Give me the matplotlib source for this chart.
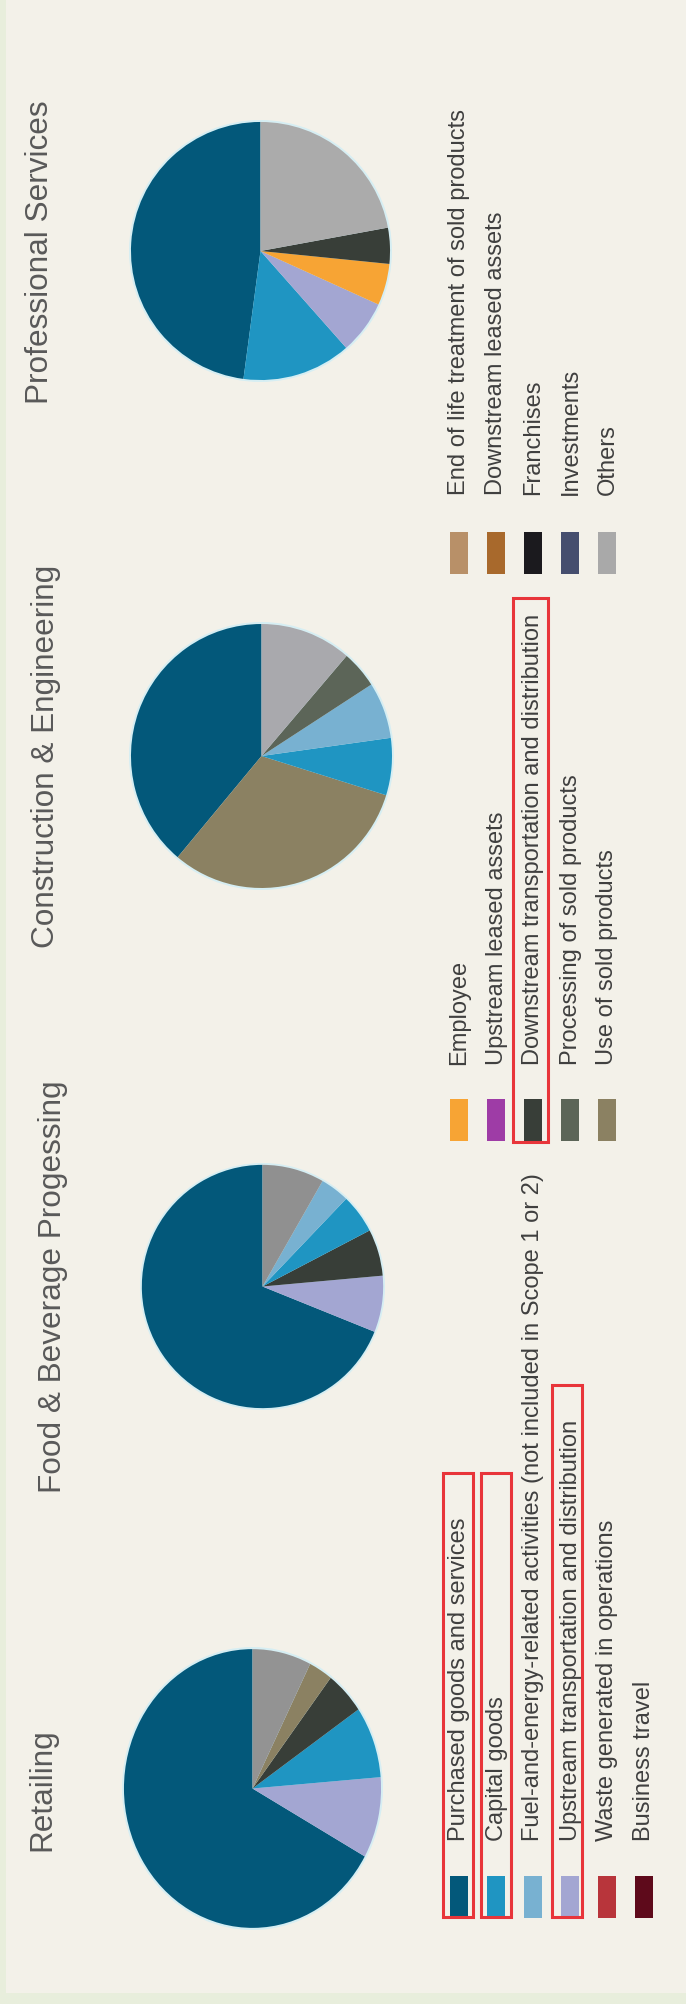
import matplotlib
matplotlib.use("Agg")
import matplotlib.pyplot as plt
from matplotlib.patches import Rectangle, Ellipse

plt.rcParams["font.family"] = ["Liberation Sans", "DejaVu Sans"]

W, H = 686, 2004

# Scope 3 category colours
CATEGORY_COLORS = {
    "Purchased goods and services": "#03587A",
    "Capital goods": "#1F95C2",
    "Fuel-and-energy-related activities (not included in Scope 1 or 2)": "#78B1D1",
    "Upstream transportation and distribution": "#A3A6D2",
    "Waste generated in operations": "#B8353B",
    "Business travel": "#5E0A1B",
    "Employee": "#F7A434",
    "Upstream leased assets": "#9E3CA6",
    "Downstream transportation and distribution": "#383E38",
    "Processing of sold products": "#5C6558",
    "Use of sold products": "#8B8162",
    "End of life treatment of sold products": "#B89068",
    "Downstream leased assets": "#A8692C",
    "Franchises": "#1B1A1E",
    "Investments": "#454E6E",
    "Others": "#A9A9A9",
}

legend_cols = [
    ["Purchased goods and services",
     "Capital goods",
     "Fuel-and-energy-related activities (not included in Scope 1 or 2)",
     "Upstream transportation and distribution",
     "Waste generated in operations",
     "Business travel"],
    ["Employee",
     "Upstream leased assets",
     "Downstream transportation and distribution",
     "Processing of sold products",
     "Use of sold products"],
    ["End of life treatment of sold products",
     "Downstream leased assets",
     "Franchises",
     "Investments",
     "Others"],
]

# sector shares (%), in wedge order
sectors = ["Retailing", "Food & Beverage Progessing",
           "Construction & Engineering", "Professional Services"]

retail_cats = ["Purchased goods and services", "Upstream transportation and distribution",
               "Capital goods", "Downstream transportation and distribution",
               "Use of sold products", "Others"]
retail_vals = [66.9, 9.4, 8.3, 5.0, 3.0, 7.4]

food_cats = ["Purchased goods and services", "Upstream transportation and distribution",
             "Downstream transportation and distribution", "Capital goods",
             "Fuel-and-energy-related activities (not included in Scope 1 or 2)", "Others"]
food_vals = [69.0, 7.5, 6.2, 5.2, 3.9, 8.3]

constr_cats = ["Purchased goods and services", "Use of sold products", "Capital goods",
               "Fuel-and-energy-related activities (not included in Scope 1 or 2)",
               "Processing of sold products", "Others"]
constr_vals = [38.9, 31.3, 7.0, 6.9, 4.6, 11.3]

prof_cats = ["Purchased goods and services", "Capital goods",
             "Upstream transportation and distribution", "Employee",
             "Downstream transportation and distribution", "Others"]
prof_vals = [47.9, 13.6, 6.7, 5.2, 4.5, 22.1]

pie_data = [(retail_cats, retail_vals), (food_cats, food_vals),
            (constr_cats, constr_vals), (prof_cats, prof_vals)]

# the first two sectors use a darker grey for "Others"
others_grey = ["#939393", "#909090", "#A9A9AD", "#ABABAB"]

# layout in pixels (x0, y0, w, h) measured from top-left
pie_boxes = [(122, 1647, 261, 283), (140, 1163, 245, 247),
             (129, 622, 265, 268), (129, 120, 263, 262)]
title_pos = [(50, 1790), (61, 1287), (54, 756), (48, 252)]

fig = plt.figure(figsize=(W / 100, H / 100), dpi=100)
fig.patch.set_facecolor("#F3F1E9")

base = fig.add_axes([0, 0, 1, 1])
base.set_xlim(0, W)
base.set_ylim(H, 0)
base.axis("off")

# thin greenish frame on the left and bottom edge
base.add_patch(Rectangle((0, 0), 6, H, facecolor="#E8EEDC", edgecolor="none"))
base.add_patch(Rectangle((0, 1993), W, 11, facecolor="#E8EEDC", edgecolor="none"))

for (name, (tx, ty)) in zip(sectors, title_pos):
    base.text(tx, ty, name, rotation=90, rotation_mode="anchor",
              ha="center", va="baseline", fontsize=22.7, color="#595959")

for i, ((cats, vals), (x0, y0, w, h)) in enumerate(zip(pie_data, pie_boxes)):
    ax = fig.add_axes([x0 / W, 1 - (y0 + h) / H, w / W, h / H])
    ax.set_facecolor("none")
    colors = [others_grey[i] if c == "Others" else CATEGORY_COLORS[c] for c in cats]
    ax.add_patch(Ellipse((0, 0), 2.0, 2.0, facecolor="#D6EEF3", edgecolor="none"))
    ax.pie(vals, colors=colors, startangle=90, counterclock=True, radius=0.985,
           wedgeprops=dict(linewidth=0))
    ax.set_aspect("auto")
    ax.set_xlim(-1, 1)
    ax.set_ylim(-1, 1)
    ax.axis("off")

# legend: three columns of rotated entries
row_x = [459, 496, 533, 570, 607, 644]
swatch_top = [1876, 1099, 532]
text_start = [1841, 1065, 495]
for col, items in enumerate(legend_cols):
    for r, label in enumerate(items):
        cx = row_x[r]
        base.add_patch(Rectangle((cx - 9, swatch_top[col]), 18, 42,
                                 facecolor=CATEGORY_COLORS[label], edgecolor="none"))
        base.text(cx + 6.5, text_start[col], label, rotation=90, rotation_mode="anchor",
                  ha="left", va="baseline", fontsize=17, color="#3F3F3F")

# highlight boxes
highlights = [(443, 1473, 30, 444), (481, 1473, 30, 444),
              (552, 1385, 30, 532), (513, 598, 35, 544)]
for (bx, by, bw, bh) in highlights:
    base.add_patch(Rectangle((bx, by), bw, bh, facecolor="none",
                             edgecolor="#E8353A", linewidth=2.2))

fig.savefig("out.png", dpi=100, facecolor=fig.get_facecolor())
